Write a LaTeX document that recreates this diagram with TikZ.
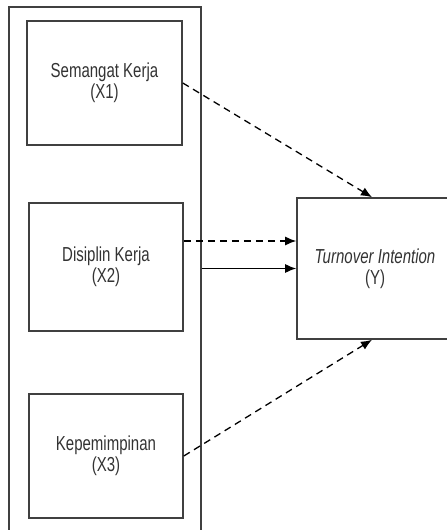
\documentclass[tikz,border=0pt]{standalone}
\usepackage{fontspec}
\setmainfont{Liberation Sans}
\usetikzlibrary{arrows.meta}
\newcommand{\tl}[1]{\scalebox{1}[1.35]{#1}}

\begin{document}
\begin{tikzpicture}[x=1pt,y=-1pt,
  box/.style={draw=black!75,line width=1.6pt,align=center,text=black!80,
    font=\fontsize{15}{21}\selectfont,inner sep=0pt},
  dep/.style={line width=1.3pt,-{Latex[length=11pt,width=9pt]}},
  dsh/.style={dep,dash pattern=on 7pt off 5pt}]
  \useasboundingbox (0,0) rectangle (447,530);
  \clip (0,0) rectangle (447,530);
  \node[box,minimum width=192pt,minimum height=533pt] (grp) at (105,273.5) {};
  \node[box,minimum width=155pt,minimum height=124pt] (x1) at (104.5,83)
    {\tl{Semangat Kerja}\\\tl{(X1)}};
  \node[box,minimum width=154pt,minimum height=128pt] (x2) at (106,267)
    {\tl{Disiplin Kerja}\\\tl{(X2)}};
  \node[box,minimum width=154pt,minimum height=124pt] (x3) at (106,456)
    {\tl{Kepemimpinan}\\\tl{(X3)}};
  \node[box,minimum width=156pt,minimum height=141pt] (y) at (375,268.5)
    {\tl{\itshape Turnover Intention}\\\tl{(Y)}};
  \draw[dsh] (x1.east) -- ([xshift=-3pt]y.north);
  \draw[dsh] ([yshift=26pt]x2.east) -- ([yshift=26pt]x2.east -| y.west);
  \draw[dep] (grp.east |- y.west) -- (y.west);
  \draw[dsh] (x3.east) -- ([xshift=-3pt]y.south);
\end{tikzpicture}
\end{document}
